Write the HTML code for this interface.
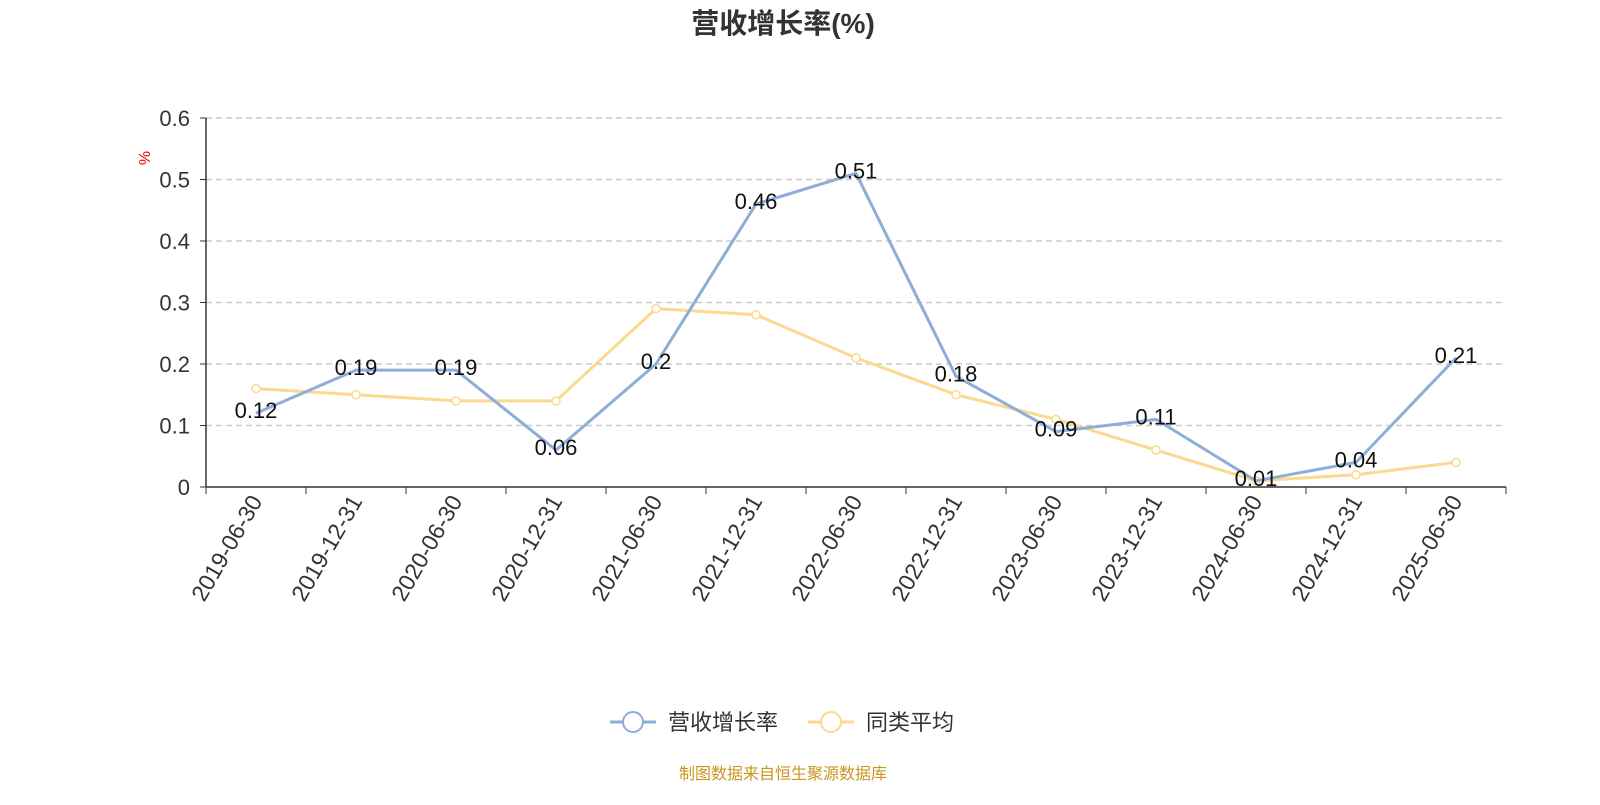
<!DOCTYPE html>
<html><head><meta charset="utf-8"><style>
body{margin:0;background:#fff;}
svg text{font-family:"Liberation Sans","Noto Sans CJK SC",sans-serif;}
</style></head><body>
<svg id="c" width="1600" height="800" xmlns="http://www.w3.org/2000/svg">
<text x="783" y="33" text-anchor="middle" font-size="28" font-weight="bold" fill="#333">营收增长率(%)</text>
<text transform="translate(150,158) rotate(-90)" text-anchor="middle" font-size="16" fill="#e00">%</text>
<g id="grid"></g>
<g id="axes"></g>
<g id="series"></g>
<g>
<g><line x1="610" y1="722" x2="656" y2="722" stroke="#8eadd8" stroke-width="3"/><circle cx="633" cy="722" r="10" fill="#fff" stroke="#8eadd8" stroke-width="2"/><text x="668" y="730" font-size="22" fill="#333">营收增长率</text></g>
<g><line x1="808" y1="722" x2="854" y2="722" stroke="#fbd98f" stroke-width="3"/><circle cx="831" cy="722" r="10" fill="#fff" stroke="#fbd98f" stroke-width="2"/><text x="866" y="730" font-size="22" fill="#333">同类平均</text></g>
</g>
<text x="783" y="779" text-anchor="middle" font-size="16" fill="#c8961e">制图数据来自恒生聚源数据库</text>
</svg>
<script>
const categories=["2019-06-30","2019-12-31","2020-06-30","2020-12-31","2021-06-30","2021-12-31","2022-06-30","2022-12-31","2023-06-30","2023-12-31","2024-06-30","2024-12-31","2025-06-30"];
const revenueGrowth=[0.12,0.19,0.19,0.06,0.2,0.46,0.51,0.18,0.09,0.11,0.01,0.04,0.21];
const peerAverage=[0.16,0.15,0.14,0.14,0.29,0.28,0.21,0.15,0.11,0.06,0.01,0.02,0.04];
const yTicks=[0,0.1,0.2,0.3,0.4,0.5,0.6];
const NS="http://www.w3.org/2000/svg";
const L=206,R=1506,T=118,B=487,yMax=0.6;
const bw=(R-L)/categories.length;
const xs=i=>L+bw*(i+0.5);
const ys=v=>B-(v/yMax)*(B-T);
function mk(tag,attrs,parent,txt){const e=document.createElementNS(NS,tag);for(const k in attrs)e.setAttribute(k,attrs[k]);if(txt!==undefined)e.textContent=txt;parent.appendChild(e);return e;}
const grid=document.getElementById('grid'),axes=document.getElementById('axes'),ser=document.getElementById('series');
yTicks.forEach(t=>{
 const y=ys(t);
 if(t>0){const g=mk('line',{x1:L,x2:R,y1:y,y2:y,stroke:'#ccc','stroke-dasharray':'6,4','stroke-width':1.5},grid);
 
 }
 const tk=mk('line',{x1:L-6,x2:L,y1:y,y2:y,stroke:'#333'},axes);
 
 
 const lb=mk('text',{x:L-16,y:y+8,'text-anchor':'end','font-size':22,fill:'#333'},axes,String(t));
 
 
});
mk('line',{x1:L,x2:L,y1:T,y2:B,stroke:'#333','stroke-width':1.5},axes);
mk('line',{x1:L,x2:R,y1:B,y2:B,stroke:'#333','stroke-width':1.5},axes);
for(let i=0;i<=categories.length;i++){const x=L+bw*i;const tk=mk('line',{x1:x,x2:x,y1:B,y2:B+7,stroke:'#333'},axes);
 
 }
categories.forEach((c,i)=>{const x=xs(i);
 const lb=mk('text',{transform:`translate(${x+7},${B+14}) rotate(-60)`,'text-anchor':'end','font-size':23,fill:'#333'},axes,c);
 
 });
function line(vals,color,name,showSym,labels){
 const p=mk('polyline',{points:vals.map((v,i)=>xs(i)+','+ys(v)).join(' '),fill:'none',stroke:color,'stroke-width':3,'stroke-linejoin':'round'},ser);
 
 
 vals.forEach((v,i)=>{
  if(showSym){const c=mk('circle',{cx:xs(i),cy:ys(v),r:4,fill:'#fff',stroke:color,'stroke-width':1.5},ser);
  
  }
  if(labels){const t=mk('text',{x:xs(i),y:ys(v)+5,'text-anchor':'middle','font-size':22,fill:'#111'},ser,String(v));
  
  }
 });
}
line(peerAverage,'#fbd98f','peer-average',true,false);
line(revenueGrowth,'#8eadd8','revenue-growth',false,true);
</script>
</body></html>
